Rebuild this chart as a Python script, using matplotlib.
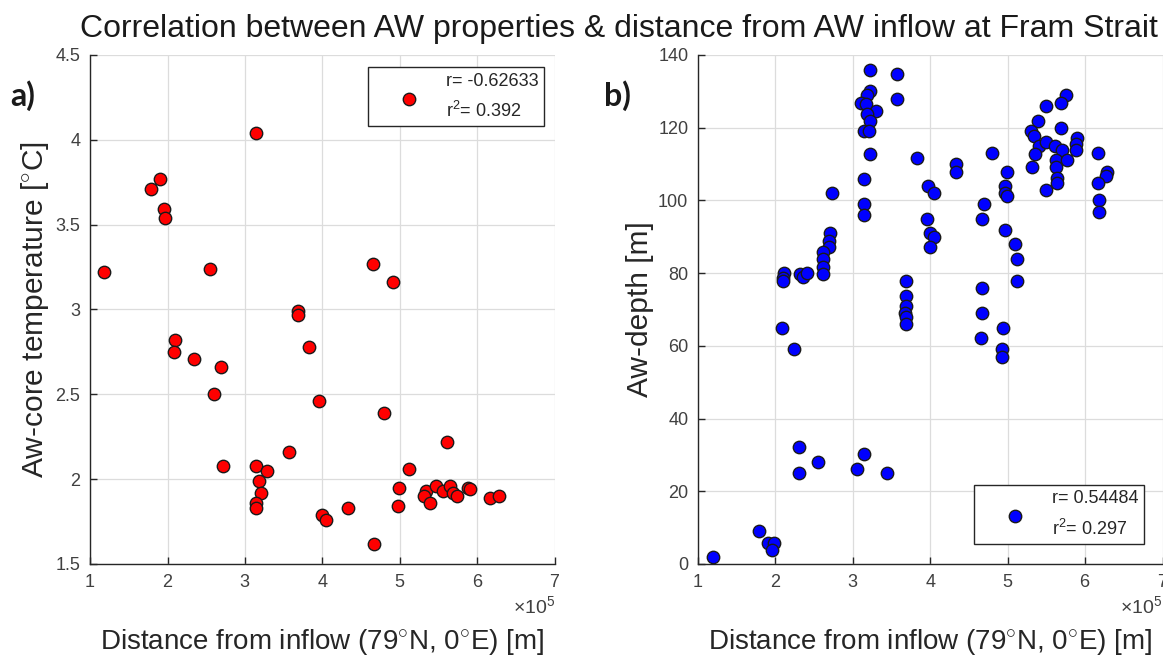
import numpy as np
import matplotlib
matplotlib.use("Agg")
import matplotlib.pyplot as plt
from matplotlib.ticker import ScalarFormatter

plt.rcParams['font.family'] = ['Liberation Sans', 'DejaVu Sans']
plt.rcParams['mathtext.fontset'] = 'custom'
plt.rcParams['mathtext.rm'] = 'Liberation Sans'
plt.rcParams['mathtext.it'] = 'Liberation Sans'

# distance from inflow, in units of 1e5 m
dist_temp = [3.14, 1.90, 1.79, 1.95, 1.97, 1.18, 2.55, 3.68, 3.68, 2.10, 2.08, 2.34,
             2.69, 3.83, 2.60, 3.96, 3.57, 2.72, 3.14, 3.29, 3.18, 3.21, 3.14, 3.14,
             3.99, 4.05, 4.65, 4.91, 4.80, 5.61, 5.12, 4.99, 4.97, 4.33, 4.67, 5.34,
             5.31, 5.39, 5.47, 5.56, 5.64, 5.69, 5.74, 5.88, 5.90, 6.16, 6.28]
aw_temp = [4.04, 3.77, 3.71, 3.59, 3.54, 3.22, 3.24, 2.99, 2.97, 2.82, 2.75, 2.71,
           2.66, 2.78, 2.50, 2.46, 2.16, 2.08, 2.08, 2.05, 1.99, 1.92, 1.86, 1.83,
           1.79, 1.76, 3.27, 3.16, 2.39, 2.22, 2.06, 1.95, 1.84, 1.83, 1.62, 1.93,
           1.90, 1.86, 1.96, 1.93, 1.96, 1.92, 1.90, 1.95, 1.94, 1.89, 1.90]

dist_depth = [3.22, 3.57, 3.57, 3.22, 3.18, 3.11, 3.17, 3.30, 3.18, 3.22, 3.14, 3.21,
              3.22, 3.14, 3.14, 3.14, 2.73, 2.70, 2.69, 2.69, 2.61, 2.61, 2.61, 2.61,
              2.11, 2.10, 2.10, 2.32, 2.35, 2.41, 2.08, 2.24, 3.83, 3.68, 3.68, 3.68,
              3.67, 3.68, 3.68,
              1.79, 1.91, 1.98, 1.95, 1.19, 2.31, 2.31, 2.55, 3.05, 3.14, 3.44,
              3.97, 4.05, 4.33, 4.33, 3.96, 3.99, 4.05, 3.99, 4.80, 4.69, 4.67, 4.99,
              4.97, 4.97, 4.99, 4.97, 5.10, 5.12, 5.12, 4.67, 4.67, 4.65, 4.94, 4.92,
              4.92,
              5.75, 5.69, 5.49, 5.39, 5.69, 5.30, 5.34, 5.90, 5.88, 5.88, 5.41, 5.50,
              5.61, 5.70, 5.35, 5.62, 5.77, 5.63, 5.31, 5.64, 5.64, 5.49, 6.17, 6.28,
              6.27, 6.17, 6.18, 6.18]
aw_depth = [136.0, 134.8, 127.9, 130.0, 129.1, 126.8, 126.6, 124.7, 123.9, 121.9, 119.1, 119.1,
            112.9, 105.8, 99.0, 96.0, 102.1, 91.0, 88.7, 87.2, 85.9, 83.8, 81.8, 79.7,
            80.1, 78.7, 77.8, 79.7, 79.0, 79.9, 65.0, 59.2, 111.7, 77.9, 73.8, 70.9,
            68.9, 67.9, 66.1,
            9.1, 5.9, 5.9, 3.9, 1.9, 32.1, 24.9, 28.1, 26.1, 30.2, 24.9,
            104.1, 102.0, 110.0, 107.7, 94.8, 91.0, 89.9, 87.1, 113.0, 99.0, 94.8, 107.8,
            104.1, 102.0, 101.1, 91.9, 88.0, 83.9, 77.9, 75.8, 68.9, 62.2, 65.0, 59.0,
            56.9,
            128.9, 126.8, 125.9, 121.9, 119.9, 119.2, 117.8, 117.2, 115.5, 113.9, 114.9, 116.0,
            114.9, 113.8, 112.8, 111.0, 111.0, 109.1, 109.1, 106.1, 104.8, 102.9, 113.0, 107.7,
            106.8, 104.9, 100.0, 96.8]

stats_temp = (-0.62633, 0.392)
stats_depth = (0.54484, 0.297)

xlabel = r'Distance from inflow (79$^{\circ}$N, 0$^{\circ}$E) [m]'
txt_col = '#262626'
tick_col = '#404040'

fig = plt.figure(figsize=(11.63, 6.68), dpi=100)
ax1 = fig.add_axes([0.0774, 0.1557, 0.3998, 0.7620])
ax2 = fig.add_axes([0.6002, 0.1557, 0.3994, 0.7620])


def style_axes(ax):
    ax.grid(True, color='#dcdcdc', linewidth=0.9)
    ax.set_axisbelow(True)
    for s in ['top', 'right']:
        ax.spines[s].set_visible(False)
    for s in ['left', 'bottom']:
        ax.spines[s].set_color('#262626')
        ax.spines[s].set_linewidth(1.0)
    ax.tick_params(direction='in', length=5, width=1, colors='#262626',
                   labelcolor=tick_col, labelsize=13, pad=7)
    fmt = ScalarFormatter(useMathText=True)
    fmt.set_powerlimits((0, 0))
    ax.xaxis.set_major_formatter(fmt)
    ax.xaxis.get_offset_text().set_fontsize(14)
    ax.xaxis.get_offset_text().set_color(tick_col)
    ax.set_xlim(1e5, 7e5)
    ax.set_xticks(np.arange(1, 8) * 1e5)
    ax.set_xlabel(xlabel, fontsize=20, color=txt_col, labelpad=26)


def add_legend(ax, handle, stats, loc, anchor):
    label = 'r= %.5f\n' % stats[0] + r'r$^2$= %.3f' % stats[1]
    leg = ax.legend([handle], [label], loc=loc, bbox_to_anchor=anchor,
                    fontsize=13, fancybox=False, framealpha=1, edgecolor='#262626',
                    borderpad=0.3, handletextpad=0.05, borderaxespad=0,
                    scatterpoints=1, handlelength=3.95)
    leg.get_frame().set_linewidth(1.0)
    for t in leg.get_texts():
        t.set_color(txt_col)
        t.set_linespacing(1.7)
    return leg


# a) temperature
x1 = np.array(dist_temp) * 1e5
h1 = ax1.scatter(x1, aw_temp, s=80, c='#ff0000', edgecolors='#1a1a1a',
                 linewidths=1.0, zorder=3)
style_axes(ax1)
ax1.set_ylim(1.5, 4.5)
ax1.set_yticks(np.arange(1.5, 4.6, 0.5))
ax1.set_yticklabels(['1.5', '2', '2.5', '3', '3.5', '4', '4.5'])
ax1.set_ylabel(r'Aw-core temperature [$^{\circ}$C]', fontsize=21.5, color=txt_col,
               labelpad=3)
add_legend(ax1, h1, stats_temp, 'upper right', (0.976, 0.976))

# b) depth
x2 = np.array(dist_depth) * 1e5
h2 = ax2.scatter(x2, aw_depth, s=80, c='#0000ff', edgecolors='#1a1a1a',
                 linewidths=1.0, zorder=3)
style_axes(ax2)
ax2.set_ylim(0, 140)
ax2.set_yticks(np.arange(0, 141, 20))
ax2.set_ylabel('Aw-depth [m]', fontsize=21.5, color=txt_col, labelpad=3)
add_legend(ax2, h2, stats_depth, 'lower right', (0.960, 0.039))

fig.text(0.532, 0.957, 'Correlation between AW properties & distance from AW inflow at Fram Strait',
         ha='center', va='center', fontsize=23, color='#1a1a1a')
fig.text(0.009, 0.857, 'a)', fontsize=23, fontweight='bold', family='Lato',
         color='#1a1a1a', va='center')
fig.text(0.519, 0.857, 'b)', fontsize=23, fontweight='bold', family='Lato',
         color='#1a1a1a', va='center')

fig.savefig('out.png', dpi=100)
